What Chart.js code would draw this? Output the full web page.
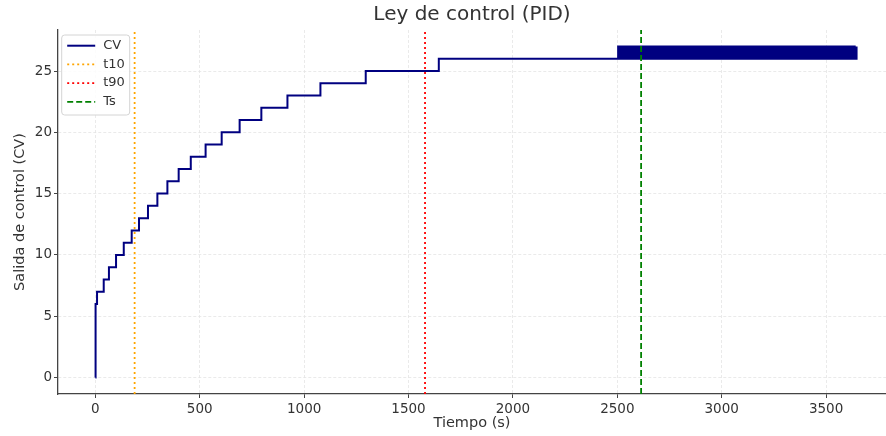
<!DOCTYPE html>
<html>
<head>
<meta charset="utf-8">
<title>Ley de control (PID)</title>
<script src="https://cdn.jsdelivr.net/npm/chart.js@4.4.1/dist/chart.umd.min.js"></script>
<style>
    html, body { margin: 0; padding: 0; background: #fff; }
    #wrap { width: 886px; height: 436px; position: relative; }
</style>
</head>
<body>
<div id="wrap"><canvas id="pid-chart"></canvas></div>
<script>
// Salida de control: instante de cada cambio (s) y valor que toma desde ahi
var cvTimes = [0, 1, 8, 40, 65, 99, 136, 174, 209, 252, 297, 345, 399, 457, 528, 605, 691, 795, 920, 1078, 1295, 1645];
var cvValues = [0, 6, 7, 8, 9, 10, 11, 12, 13, 14, 15, 16, 17, 18, 19, 20, 21, 22, 23, 24, 25, 26];

// Tramo final: la salida oscila entre 26 y 27
var oscTimes = [
    2504, 2511, 2518, 2526, 2532, 2539, 2546, 2554, 2561,
    2568, 2575, 2583, 2589, 2596, 2603, 2611, 2618,
    2625, 2632, 2640, 2646, 2653, 2660, 2668, 2675,
    2682, 2689, 2697, 2703, 2710, 2717, 2725, 2732,
    2739, 2746, 2754, 2760, 2767, 2774, 2782, 2789,
    2796, 2803, 2811, 2817, 2824, 2831, 2839, 2846,
    2853, 2860, 2868, 2874, 2881, 2888, 2896, 2903,
    2910, 2917, 2925, 2931, 2938, 2945, 2953, 2960,
    2967, 2974, 2982, 2988, 2995, 3002, 3010, 3017,
    3024, 3031, 3039, 3045, 3052, 3059, 3067, 3074,
    3081, 3088, 3096, 3102, 3109, 3116, 3124, 3131,
    3138, 3145, 3153, 3159, 3166, 3173, 3181, 3188,
    3195, 3202, 3210, 3216, 3223, 3230, 3238, 3245,
    3252, 3259, 3267, 3273, 3280, 3287, 3295, 3302,
    3309, 3316, 3324, 3330, 3337, 3344, 3352, 3359,
    3366, 3373, 3381, 3387, 3394, 3401, 3409, 3416,
    3423, 3430, 3438, 3444, 3451, 3458, 3466, 3473,
    3480, 3487, 3495, 3501, 3508, 3515, 3523, 3530,
    3537, 3544, 3552, 3558, 3565, 3572, 3580, 3587,
    3594, 3601, 3609, 3615, 3622, 3629, 3637, 3646
];
var oscValues = [
    27, 26, 27, 26, 27, 26, 27, 26, 27, 26,
    27, 26, 27, 26, 27, 26, 27, 26, 27, 26,
    27, 26, 27, 26, 27, 26, 27, 26, 27, 26,
    27, 26, 27, 26, 27, 26, 27, 26, 27, 26,
    27, 26, 27, 26, 27, 26, 27, 26, 27, 26,
    27, 26, 27, 26, 27, 26, 27, 26, 27, 26,
    27, 26, 27, 26, 27, 26, 27, 26, 27, 26,
    27, 26, 27, 26, 27, 26, 27, 26, 27, 26,
    27, 26, 27, 26, 27, 26, 27, 26, 27, 26,
    27, 26, 27, 26, 27, 26, 27, 26, 27, 26,
    27, 26, 27, 26, 27, 26, 27, 26, 27, 26,
    27, 26, 27, 26, 27, 26, 27, 26, 27, 26,
    27, 26, 27, 26, 27, 26, 27, 26, 27, 26,
    27, 26, 27, 26, 27, 26, 27, 26, 27, 26,
    27, 26, 27, 26, 27, 26, 27, 26, 27, 26,
    27, 26, 27, 26, 27, 26, 27, 26, 27, 26,
    27
];

// Lineas verticales de referencia
var markerNames = ['t10', 't90', 'Ts'];
var markerTimes = [188, 1579, 2614];

var xTicks = [0, 500, 1000, 1500, 2000, 2500, 3000, 3500];
var yTicks = [0, 5, 10, 15, 20, 25];

var X_MIN = -179, X_MAX = 3787;
var Y_MIN = -1.35, Y_MAX = 28.35;
var FONT = "'DejaVu Sans', sans-serif";

var allTimes = cvTimes.concat(oscTimes);
var allValues = cvValues.concat(oscValues);
var cvPoints = allTimes.map(function (t, i) {
    return { x: t, y: allValues[i] };
});

function markerLine(t) {
    return [{ x: t, y: Y_MIN }, { x: t, y: Y_MAX }];
}

// Leyenda dentro del area de datos (arriba a la izquierda)
var cajaLeyenda = {
    id: 'cajaLeyenda',
    afterDraw: function (chart) {
        var ctx = chart.ctx;
        var a = chart.chartArea;
        var x0 = a.left + 3.7, y0 = a.top + 5, w = 68, h = 80;
        ctx.save();
        ctx.fillStyle = 'rgba(255,255,255,0.85)';
        ctx.strokeStyle = '#d4d4d4';
        ctx.lineWidth = 1;
        ctx.beginPath();
        ctx.roundRect(x0, y0, w, h, 3);
        ctx.fill();
        ctx.stroke();
        chart.data.datasets.forEach(function (ds, i) {
            var y = y0 + 10.7 + i * 18.7;
            ctx.setLineDash(ds.borderDash || []);
            ctx.strokeStyle = ds.borderColor;
            ctx.lineWidth = ds.borderWidth;
            ctx.beginPath();
            ctx.moveTo(x0 + 5.5, y);
            ctx.lineTo(x0 + 33.5, y);
            ctx.stroke();
            ctx.setLineDash([]);
            ctx.fillStyle = '#333';
            ctx.font = '13px ' + FONT;
            ctx.textBaseline = 'middle';
            ctx.fillText(ds.label, x0 + 41.5, y);
        });
        ctx.restore();
    }
};

document.addEventListener('DOMContentLoaded', function () {
    var canvas = document.getElementById('pid-chart').getContext('2d');
    new Chart(canvas, {
        type: 'line',
        data: {
            datasets: [
                {
                    label: 'CV',
                    data: cvPoints,
                    borderColor: '#000080',
                    borderWidth: 2,
                    stepped: true,
                    pointRadius: 0,
                    fill: false,
                    order: 1
                },
                {
                    label: markerNames[0],
                    data: markerLine(markerTimes[0]),
                    borderColor: '#FFA500',
                    borderWidth: 1.8,
                    borderDash: [2, 3],
                    pointRadius: 0,
                    order: 0
                },
                {
                    label: markerNames[1],
                    data: markerLine(markerTimes[1]),
                    borderColor: '#FF0000',
                    borderWidth: 1.8,
                    borderDash: [2, 3],
                    pointRadius: 0,
                    order: 0
                },
                {
                    label: markerNames[2],
                    data: markerLine(markerTimes[2]),
                    borderColor: '#008000',
                    borderWidth: 1.8,
                    borderDash: [6, 3],
                    pointRadius: 0,
                    order: 0
                }
            ]
        },
        options: {
            responsive: true,
            maintainAspectRatio: false,
            animation: false,
            devicePixelRatio: 1,
            layout: { padding: 0 },
            plugins: {
                legend: { display: false },
                tooltip: { enabled: false },
                title: {
                    display: true,
                    fullSize: false,
                    text: 'Ley de control (PID)',
                    color: '#333',
                    font: { family: FONT, size: 20, weight: 'normal', lineHeight: 1.2 },
                    padding: { top: 3, bottom: 3 }
                }
            },
            scales: {
                x: {
                    type: 'linear',
                    min: X_MIN,
                    max: X_MAX,
                    afterBuildTicks: function (scale) {
                        scale.ticks = xTicks.map(function (v) { return { value: v }; });
                    },
                    afterFit: function (scale) { scale.height = 42; },
                    ticks: {
                        color: '#333',
                        font: { family: FONT, size: 13.5 },
                        padding: 3,
                        maxRotation: 0,
                        autoSkip: false,
                        callback: function (v) { return String(v); }
                    },
                    grid: {
                        color: '#e4e4e4',
                        lineWidth: 0.8,
                        drawTicks: true,
                        tickLength: 4,
                        tickColor: '#444',
                        tickWidth: 1
                    },
                    border: { display: true, color: '#444', width: 1.3, dash: [3, 2] },
                    title: {
                        display: true,
                        text: 'Tiempo (s)',
                        color: '#333',
                        font: { family: FONT, size: 14.5, lineHeight: 1.2 },
                        padding: { top: 0, bottom: 4 }
                    }
                },
                y: {
                    type: 'linear',
                    min: Y_MIN,
                    max: Y_MAX,
                    afterBuildTicks: function (scale) {
                        scale.ticks = yTicks.map(function (v) { return { value: v }; });
                    },
                    afterFit: function (scale) { scale.width = 58; },
                    ticks: {
                        color: '#333',
                        font: { family: FONT, size: 13.5 },
                        padding: 2,
                        callback: function (v) { return String(v); }
                    },
                    grid: {
                        color: '#e4e4e4',
                        lineWidth: 0.8,
                        drawTicks: true,
                        tickLength: 4,
                        tickColor: '#444',
                        tickWidth: 1
                    },
                    border: { display: true, color: '#444', width: 1.3, dash: [3, 2] },
                    title: {
                        display: true,
                        text: 'Salida de control (CV)',
                        color: '#333',
                        font: { family: FONT, size: 14.5, lineHeight: 1.2 },
                        padding: { top: 12, bottom: 0 }
                    }
                }
            }
        },
        plugins: [cajaLeyenda]
    });
});
</script>
</body>
</html>
